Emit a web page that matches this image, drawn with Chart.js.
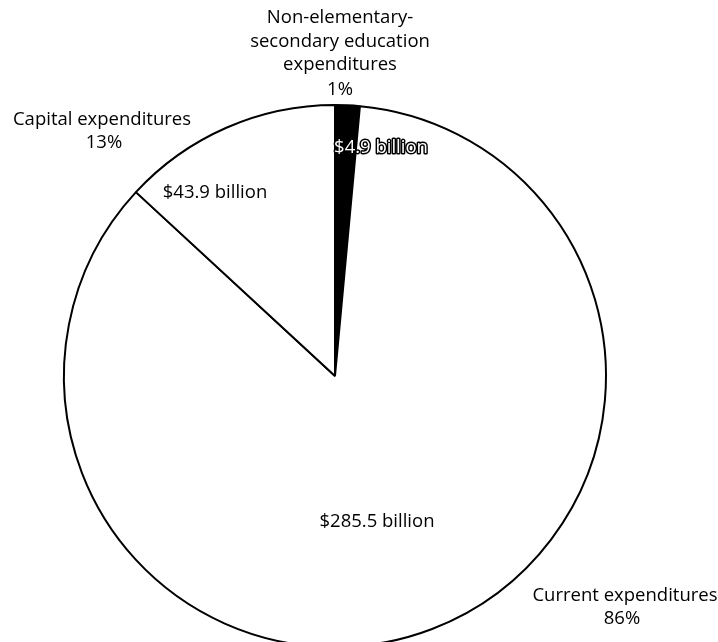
<!DOCTYPE html>
<html>
<head>
<meta charset="utf-8">
<script src="https://cdn.jsdelivr.net/npm/chart.js@4"></script>
<style>
  html, body { margin: 0; padding: 0; background: #fff; overflow: hidden; }
  #wrap { position: absolute; left: 0; top: 0; width: 718px; height: 650px; }
</style>
</head>
<body>
<div id="wrap"><canvas id="c"></canvas></div>
<script>
// ---- data ----
const categories = [
  "Non-elementary-secondary education expenditures",
  "Current expenditures",
  "Capital expenditures"
];
const values = [4.9, 285.5, 43.9];             // billions of dollars
const percentLabels = ["1%", "86%", "13%"];
const amountLabels = ["$4.9 billion", "$285.5 billion", "$43.9 billion"];
const sliceColors = ["#000000", "#ffffff", "#ffffff"];

// ---- label layout (text placement only) ----
const FONT = '18.5px "Open Sans", sans-serif';
const LINE = 23.5;
const nameLayout = [
  { lines: ["Non-elementary-", "secondary education", "expenditures"], x: 340, y: 18 },
  { lines: ["Current expenditures"], x: 625, y: 596 },
  { lines: ["Capital expenditures"], x: 102, y: 120 }
];
const pctLayout = [
  { x: 340, y: 90 },
  { x: 622, y: 619 },
  { x: 104, y: 143 }
];
const amountLayout = [
  { x: 381, y: 148, outlined: true },
  { x: 377, y: 522 },
  { x: 215, y: 193 }
];

const labelPlugin = {
  id: 'labels',
  afterDraw(chart) {
    const ctx = chart.ctx;
    ctx.save();
    ctx.font = FONT;
    ctx.textAlign = 'center';
    ctx.textBaseline = 'middle';
    categories.forEach((cat, i) => {
      const n = nameLayout[i];
      ctx.fillStyle = '#000';
      n.lines.forEach((ln, k) => ctx.fillText(ln, n.x, n.y + k * LINE));
      const p = pctLayout[i];
      ctx.fillText(percentLabels[i], p.x, p.y);
      const a = amountLayout[i];
      if (a.outlined) {
        ctx.lineJoin = 'round';
        ctx.lineWidth = 3;
        ctx.strokeStyle = '#000';
        ctx.strokeText(amountLabels[i], a.x, a.y);
        ctx.fillStyle = '#fff';
        ctx.fillText(amountLabels[i], a.x, a.y);
      } else {
        ctx.fillStyle = '#000';
        ctx.fillText(amountLabels[i], a.x, a.y);
      }
    });
    ctx.restore();
  }
};

new Chart(document.getElementById('c'), {
  type: 'pie',
  data: {
    labels: categories,
    datasets: [{
      data: values,
      backgroundColor: sliceColors,
      borderColor: '#000',
      borderWidth: 2,
      hoverOffset: 0,
      offset: 0
    }]
  },
  options: {
    responsive: true,
    maintainAspectRatio: false,
    animation: false,
    events: [],
    rotation: 0,
    layout: { padding: { left: 63, top: 104, right: 111, bottom: 2 } },
    plugins: {
      legend: { display: false },
      tooltip: { enabled: false },
      title: { display: false }
    }
  },
  plugins: [labelPlugin]
});
</script>
</body>
</html>
